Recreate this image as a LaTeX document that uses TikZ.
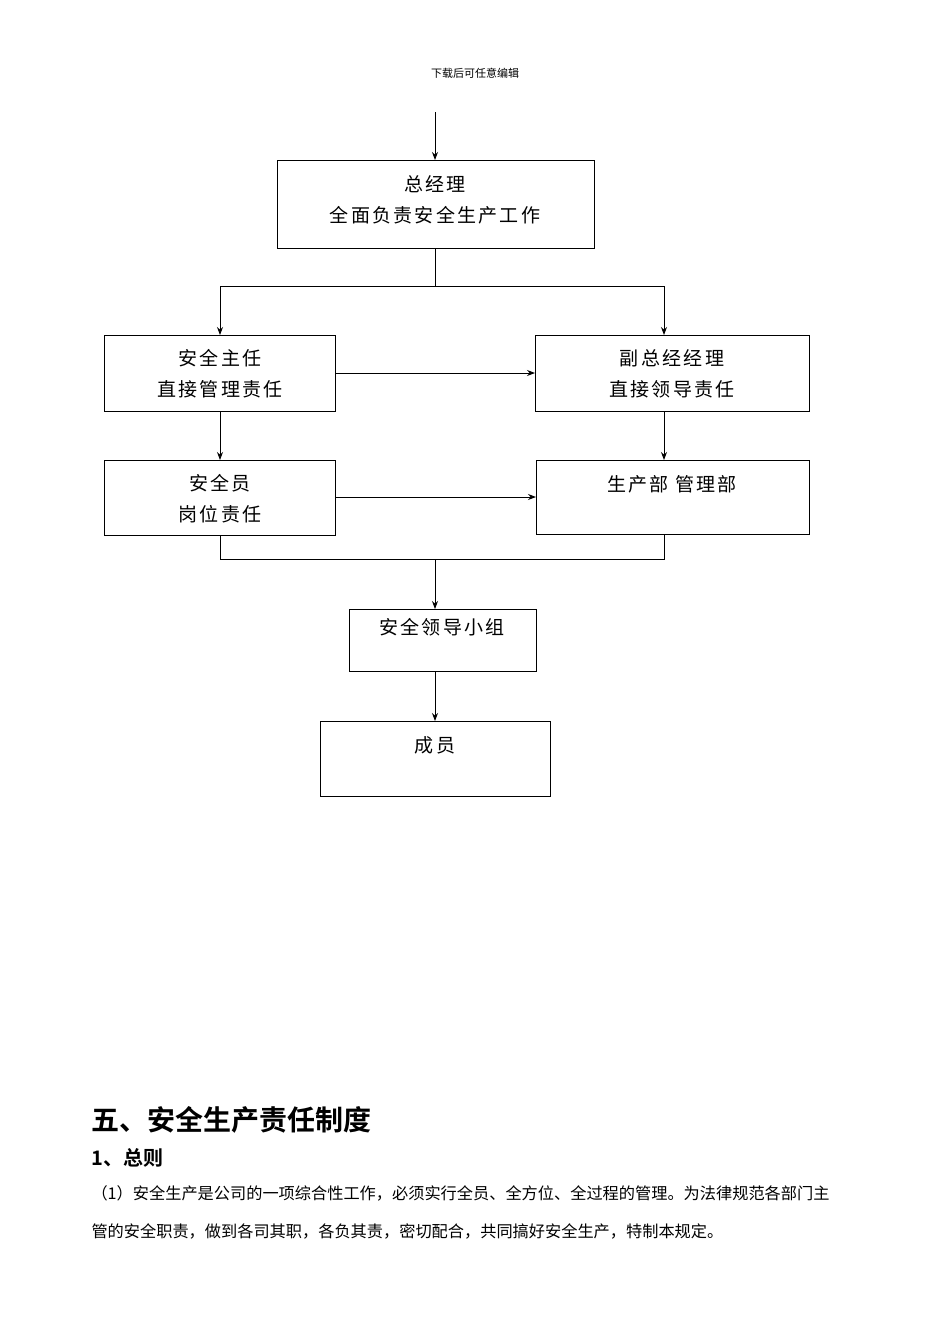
\documentclass[tikz,border=0pt]{standalone}
\usepackage{fontspec}
\newfontfamily\cjk{Noto Sans CJK SC}
\newfontfamily\cjks[LetterSpace=12]{Noto Sans CJK SC}
\newfontfamily\cjkb{Noto Sans CJK SC Bold}
\usetikzlibrary{arrows.meta}
\begin{document}
\begin{tikzpicture}[x=1pt,y=-1pt,
  box/.style={draw,line width=1pt},
  lbl/.style={font=\cjks\fontsize{19}{31}\selectfont,align=center},
  arr/.style={-{Stealth[length=8pt,width=6pt]},line width=0.9pt},
  ln/.style={line width=0.9pt}]
\useasboundingbox (0,0) rectangle (950,1344);
\node[font=\cjk\fontsize{11}{13}\selectfont] (hdr) at (475,73) {下载后可任意编辑};
\coordinate (top) at (435,112);
\draw[box] (277,160) rectangle (594,248); \coordinate (gm) at (435,160);
\node[lbl] (gmt) at (435,200) {总经理\\全面负责安全生产工作};
\draw[box] (104,335) rectangle (335,411);
\node[lbl] (a) at (220,374) {安全主任\\直接管理责任};
\draw[box] (535,335) rectangle (809,411);
\node[lbl] (b) at (672,374) {副总经经理\\直接领导责任};
\draw[box] (104,460) rectangle (335,535);
\node[lbl] (c) at (220,499) {安全员\\岗位责任};
\draw[box] (536,460) rectangle (809,534);
\node[lbl] (d) at (672,484) {生产部 管理部};
\draw[box] (349,609) rectangle (536,671);
\node[lbl] (e) at (442,627) {安全领导小组};
\draw[box] (320,721) rectangle (550,796);
\node[lbl] (f) at (435,745) {成员};
\draw[arr] (top) -- (gm);
\draw[ln] (435,248) -- (435,286);
\draw[arr] (435,286) -| (220,335);
\draw[arr] (435,286) -| (664,335);
\draw[arr] (335,373) -- (535,373);
\draw[arr] (220,411) -- (220,460);
\draw[arr] (664,411) -- (664,460);
\draw[arr] (335,497) -- (536,497);
\draw[ln] (220,535) -- (220,559) -- (664,559) -- (664,534);
\draw[arr] (435,559) -- (435,609);
\draw[arr] (435,671) -- (435,721);
\node[anchor=west,font=\cjkb\fontsize{28}{30}\selectfont] (h1) at (88,1120) {五、安全生产责任制度};
\node[anchor=west,font=\cjkb\fontsize{20}{22}\selectfont] (h2) at (88,1158) {1、总则};
\node[anchor=west,font=\cjk\fontsize{16.2}{17}\selectfont] (p1) at (88,1193) {（1）安全生产是公司的一项综合性工作，必须实行全员、全方位、全过程的管理。为法律规范各部门主};
\node[anchor=west,font=\cjk\fontsize{16.2}{17}\selectfont] (p2) at (88,1231) {管的安全职责，做到各司其职，各负其责，密切配合，共同搞好安全生产，特制本规定。};
\end{tikzpicture}
\end{document}
